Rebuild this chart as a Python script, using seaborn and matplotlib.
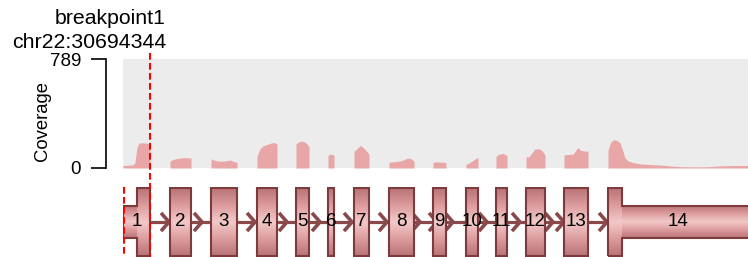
import numpy as np
import seaborn as sns
import matplotlib
matplotlib.use("Agg")
import matplotlib.pyplot as plt
import matplotlib.transforms as mtransforms
from matplotlib.colors import LinearSegmentedColormap
from matplotlib.patches import Polygon

# gene model (plot positions, introns compressed)
exon_numbers = [str(i) for i in range(1, 15)]
exon_start = [14, 47, 88, 134, 173, 205, 231, 266, 310, 343, 373, 403, 441, 485]
exon_end = [27, 68, 114, 154, 186, 211, 246, 291, 323, 355, 384, 422, 465, 499]
utr5 = (0, 14)
utr3 = (499, 640)
label_pos = [13.5, 57.5, 101, 144, 179.5, 208, 238.5, 278.5, 316.5, 349, 378.5, 412.5, 453, 555]
arrow_tips = [46, 79, 132, 164, 197, 229, 264, 297, 314, 330, 364, 397, 430, 441, 484]

breakpoint_pos = 27
gene_left = 0
breakpoint_name = "breakpoint1"
breakpoint_coord = "chr22:30694344"
max_coverage = 789

# coverage per exon
cov_x = [
    [0, 5, 10, 12, 14, 16, 20, 24, 27],
    [47, 50, 55, 62, 68],
    [88, 92, 97, 103, 107, 111, 114],
    [134, 137, 140, 144, 148, 151, 154],
    [173, 175, 178, 181, 184, 186],
    [205, 207, 209, 211],
    [231, 234, 237, 240, 243, 245, 246],
    [266, 270, 274, 278, 281, 284, 287, 289, 291],
    [310, 314, 319, 323],
    [343, 346, 349, 352, 355],
    [373, 376, 380, 384],
    [403, 406, 409, 412, 416, 419, 422],
    [441, 445, 450, 455, 457, 460, 463, 465],
    [485, 488, 491, 494, 497, 500, 502, 505, 510, 517, 527, 537, 547, 557, 577, 587, 597, 612, 625],
]
cov_y = [
    [18, 20, 22, 40, 150, 180, 183, 178, 170],
    [50, 62, 70, 75, 72],
    [66, 55, 48, 52, 58, 45, 42],
    [85, 140, 160, 170, 180, 185, 172],
    [175, 185, 195, 190, 175, 150],
    [90, 100, 98, 92],
    [120, 140, 162, 150, 125, 110, 95],
    [42, 44, 48, 52, 60, 70, 72, 60, 50],
    [42, 44, 42, 40],
    [25, 35, 50, 65, 75],
    [85, 100, 105, 90],
    [80, 82, 110, 138, 140, 125, 95],
    [95, 97, 100, 150, 130, 125, 120, 125],
    [130, 190, 205, 200, 183, 120, 73, 51, 40, 30, 25, 22, 15, 10, 8, 10, 15, 18, 18],
]

sns.set_style("white")
plt.rcParams['font.family'] = ['Liberation Sans', 'DejaVu Sans']
plt.rcParams['text.color'] = 'black'
plt.rcParams['ytick.color'] = 'black'
plt.rcParams['ytick.labelcolor'] = 'black'

W, H = 748, 257
fig = plt.figure(figsize=(W / 100, H / 100), dpi=100)
ax_cov = fig.add_axes([123 / W, 1 - 168 / H, 625 / W, 109 / H])
ax_gene = fig.add_axes([123 / W, 0, 625 / W, 70 / H])

# coverage track
ax_cov.set_facecolor("#ECECEC")
for xs, ys in zip(cov_x, cov_y):
    ax_cov.fill_between(xs, 0, ys, color="#E8A6A6", linewidth=0)
ax_cov.set_xlim(0, 625)
ax_cov.set_ylim(0, max_coverage)
sns.despine(ax=ax_cov, top=True, right=True, bottom=True, left=False)
ax_cov.spines['left'].set_position(('outward', 12.3))
ax_cov.spines['left'].set_bounds(0, max_coverage)
ax_cov.spines['left'].set_linewidth(1.2)
ax_cov.spines['left'].set_color("black")
ax_cov.set_xticks([])
ax_cov.set_yticks([0, max_coverage])
ax_cov.set_yticklabels(["0", str(max_coverage)])
ax_cov.tick_params(axis='y', direction='out', length=11, width=1.2, pad=7, left=True,
                   color="black", labelcolor="black", labelsize=13.5)
fig.text(42 / W, 1 - 121 / H, "Coverage", rotation=90, ha="center", va="center", fontsize=13.3)

# gene model
intron_col = "#8A4A4C"
edge_col = "#7D3B3D"
cmap = LinearSegmentedColormap.from_list(
    "exon", ["#B97476", "#DD9C9E", "#F3C9C9", "#DD9C9E", "#B97476"])
grad = np.linspace(0, 1, 64).reshape(-1, 1)
h_cds, h_utr = 0.96, 0.47

ax_gene.plot([exon_end[0], exon_start[-1]], [0, 0], color=intron_col, lw=2.3, zorder=1,
             solid_capstyle="butt")
for tip in arrow_tips:
    ax_gene.plot([tip - 8, tip, tip - 8], [0.26, 0, -0.26], color=intron_col, lw=2.6,
                 zorder=1, solid_joinstyle="miter", solid_capstyle="butt")


def gradient_box(x0, x1, h):
    ax_gene.imshow(grad, extent=(x0, x1, -h, h), aspect="auto", cmap=cmap,
                   interpolation="bicubic", zorder=2)


for s, e in zip(exon_start, exon_end):
    gradient_box(s, e, h_cds)
gradient_box(utr5[0], utr5[1], h_utr)
gradient_box(utr3[0], utr3[1], h_utr)

for i, (s, e) in enumerate(zip(exon_start, exon_end)):
    if i == 0:
        pts = [(utr5[0], -h_utr), (utr5[0], h_utr), (s, h_utr), (s, h_cds), (e, h_cds),
               (e, -h_cds), (s, -h_cds), (s, -h_utr)]
    elif i == len(exon_start) - 1:
        pts = [(s, -h_cds), (s, h_cds), (e, h_cds), (e, h_utr), (utr3[1], h_utr),
               (utr3[1], -h_utr), (e, -h_utr), (e, -h_cds)]
    else:
        pts = [(s, -h_cds), (s, h_cds), (e, h_cds), (e, -h_cds)]
    ax_gene.add_patch(Polygon(pts, closed=True, fill=False, edgecolor=edge_col, lw=1.5, zorder=3))

for lab, x in zip(exon_numbers, label_pos):
    ax_gene.text(x, 0, lab, ha="center", va="center", fontsize=13.5, color="black", zorder=4)

ax_gene.set_xlim(0, 625)
ax_gene.set_ylim(-1, 1)
ax_gene.axis("off")

# breakpoint markers
trans = mtransforms.blended_transform_factory(ax_cov.transData, fig.transFigure)
fig.add_artist(plt.Line2D([breakpoint_pos, breakpoint_pos], [1 - 53 / H, 0], transform=trans,
                          color="#FF0000", lw=1.5, ls=(0, (3.2, 1.6)), zorder=10))
fig.add_artist(plt.Line2D([gene_left + 0.5, gene_left + 0.5], [1 - 187 / H, 0], transform=trans,
                          color="#FF0000", lw=1.5, ls=(0, (3.2, 1.6)), zorder=10))
fig.text(breakpoint_pos + 16, 1 - 24 / H, breakpoint_name, transform=trans, ha="right",
         va="baseline", fontsize=15.3, color="black")
fig.text(breakpoint_pos + 16, 1 - 48.5 / H, breakpoint_coord, transform=trans, ha="right",
         va="baseline", fontsize=15.3, color="black")

fig.savefig("out.png", dpi=100)
